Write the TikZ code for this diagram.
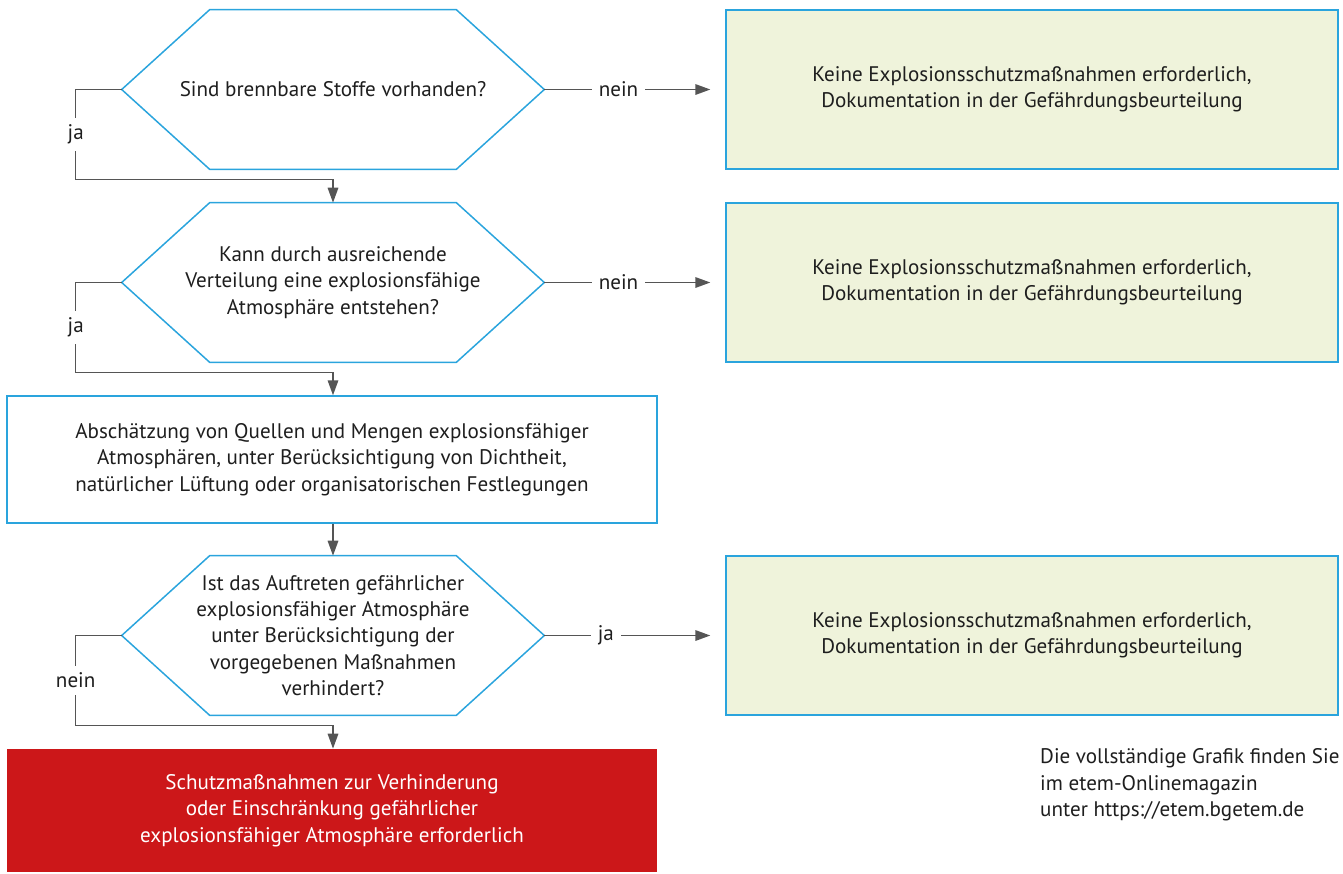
\documentclass[tikz,border=0pt]{standalone}
\usepackage{fontspec}
\setmainfont{PT Sans}
\usetikzlibrary{arrows.meta,calc}
\definecolor{hexblue}{HTML}{2AA4DD}
\definecolor{boxgreen}{HTML}{EFF3DB}
\definecolor{alarmred}{HTML}{CC1719}
\definecolor{linegrey}{HTML}{555555}
\definecolor{textgrey}{HTML}{1E1E1E}
\tikzset{
	frage/.style={rectangle, minimum width=8.44cm, minimum height=3.18cm,
		align=center, inner sep=0pt, text=textgrey},
	rand/.style={draw=hexblue, line width=0.85pt, line join=miter},
	schritt/.style={rectangle, draw=hexblue, line width=0.85pt, minimum width=13cm, minimum height=2.54cm,
		align=center, text=textgrey},
	ergebnis/.style={rectangle, draw=hexblue, fill=boxgreen, line width=0.85pt, minimum width=12.24cm,
		minimum height=3.18cm, align=center, text=textgrey},
	massnahme/.style={rectangle, fill=alarmred, minimum width=13cm, minimum height=2.46cm,
		align=center, text=white},
	pfeil/.style={draw=linegrey, line width=0.85pt, -{Triangle[length=8.5pt,width=6pt]}},
	antwort/.style={fill=white, inner sep=4pt, text=textgrey}
}
\begin{document}
\begin{tikzpicture}[x=0.02cm, y=-0.02cm, font=\fontsize{12}{15}\selectfont]
	\useasboundingbox (0,0) rectangle (1343,873);
	% Fragen
	\node[frage] (f1) at (333,89.5) {Sind brennbare Stoffe vorhanden?};
	\node[frage] (f2) at (333,282.5) {Kann durch ausreichende\\Verteilung eine explosionsfähige\\Atmosphäre entstehen?};
	\node[schritt] (s1) at (332,459.5) {Abschätzung von Quellen und Mengen explosionsfähiger\\Atmosphären, unter Berücksichtigung von Dichtheit,\\natürlicher Lüftung oder organisatorischen Festlegungen};
	\node[frage] (f3) at (333,635.5) {Ist das Auftreten gefährlicher\\explosionsfähiger Atmosphäre\\unter Berücksichtigung der\\vorgegebenen Maßnahmen\\verhindert?};
	\node[massnahme] (m1) at (332,810.5) {Schutzmaßnahmen zur Verhinderung\\oder Einschränkung gefährlicher\\explosionsfähiger Atmosphäre erforderlich};
	% Sechsecke um die Fragen
	\foreach \f in {f1,f2,f3}
		\draw[rand] (\f.west) -- ([xshift=1.76cm]\f.north west) -- ([xshift=-1.76cm]\f.north east)
			-- (\f.east) -- ([xshift=-1.76cm]\f.south east) -- ([xshift=1.76cm]\f.south west) -- cycle;
	% Ergebnisse rechts
	\node[ergebnis] (e1) at (1032,89.5) {Keine Explosionsschutzmaßnahmen erforderlich,\\Dokumentation in der Gefährdungsbeurteilung};
	\node[ergebnis] (e2) at (1032,282.5) {Keine Explosionsschutzmaßnahmen erforderlich,\\Dokumentation in der Gefährdungsbeurteilung};
	\node[ergebnis] (e3) at (1032,635.5) {Keine Explosionsschutzmaßnahmen erforderlich,\\Dokumentation in der Gefährdungsbeurteilung};
	\node[anchor=west, align=left, text=textgrey] (hinweis) at (1034,785) {Die vollständige Grafik finden Sie\\im etem-Onlinemagazin\\unter https://etem.bgetem.de};
	% Verbindungen
	\draw[pfeil, shorten >=0.3cm] (f1.east) -- node[pos=0.41, antwort]{nein} (e1.west);
	\draw[pfeil, shorten >=0.3cm] (f2.east) -- node[pos=0.41, antwort]{nein} (e2.west);
	\draw[pfeil, shorten >=0.3cm] (f3.east) -- node[pos=0.34, antwort]{ja} (e3.west);
	\draw[pfeil] (f1.west) -- ++(-46,0) |- node[pos=0.25, antwort]{ja} ($(f2.north)+(0,-23)$) -- (f2.north);
	\draw[pfeil] (f2.west) -- ++(-46,0) |- node[pos=0.25, antwort]{ja} ($(s1.north)+(1,-23)$) -- ($(s1.north)+(1,0)$);
	\draw[pfeil] ($(s1.south)+(1,0)$) -- (f3.north);
	\draw[pfeil] (f3.west) -- ++(-46,0) |- node[pos=0.25, antwort]{nein} ($(m1.north)+(1,-23)$) -- ($(m1.north)+(1,0)$);
\end{tikzpicture}
\end{document}
